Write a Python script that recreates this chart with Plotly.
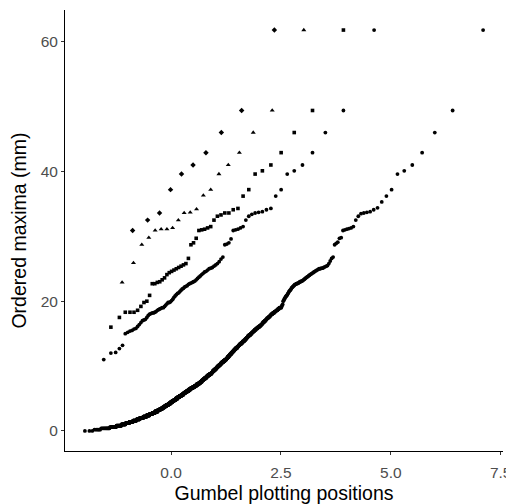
import numpy as np
import plotly.graph_objects as go

# ---- data ----
# Series 1 (1212 ordered values): lower part as value levels with repeat counts
series1_levels = [0.0, 0.2, 0.4, 0.6, 0.8, 1.0, 1.2, 1.4, 1.6, 1.8,
                  2.0, 2.2, 2.4, 2.6, 2.8, 3.0, 3.2, 3.4, 3.6, 3.8,
                  4.0, 4.2, 4.4, 4.6, 4.8, 5.0, 5.2, 5.4, 5.6, 5.8,
                  6.0, 6.2, 6.4, 6.6, 6.8, 7.0, 7.2, 7.4, 7.6, 7.8,
                  8.0, 8.2, 8.4, 8.6, 8.8, 9.0, 9.2, 9.4, 9.6, 9.8,
                  10.0, 10.2, 10.4, 10.6, 10.8, 11.0, 11.2, 11.4, 11.6, 11.8,
                  12.0, 12.2, 12.4, 12.6, 12.8, 13.0, 13.2, 13.4, 13.6, 13.8,
                  14.0, 14.2, 14.4, 14.6, 14.8, 15.0, 15.2, 15.4, 15.6, 15.8,
                  16.0, 16.2, 16.4, 16.6, 16.8, 17.0, 17.2, 17.4, 17.6, 17.8,
                  18.0, 18.2, 18.4, 18.6, 18.8, 19.0]
series1_counts = [3, 5, 13, 16, 17, 18, 19, 21, 23, 23,
                  26, 26, 26, 26, 25, 26, 21, 21, 21, 21,
                  21, 19, 19, 19, 19, 19, 18, 18, 19, 18,
                  18, 18, 18, 19, 18, 18, 18, 12, 13, 12,
                  13, 12, 12, 13, 13, 9, 9, 9, 9, 9,
                  9, 9, 9, 9, 9, 10, 6, 7, 6, 7,
                  6, 6, 7, 6, 7, 6, 6, 7, 6, 7,
                  5, 5, 5, 5, 6, 5, 5, 5, 5, 6,
                  5, 5, 4, 3, 4, 4, 3, 4, 4, 3,
                  4, 4, 4, 4, 3, 5]
series1_upper = [19.2, 19.4, 19.5, 20.0, 20.1, 20.3, 20.4, 20.6, 20.7, 20.8,
                 20.9, 21.0, 21.2, 21.3, 21.5, 21.6, 21.7, 21.8, 22.0, 22.1,
                 22.2, 22.3, 22.4, 22.5, 22.6, 22.6, 22.7, 22.7, 22.8, 22.8,
                 22.9, 23.0, 23.0, 23.1, 23.1, 23.2, 23.3, 23.4, 23.5, 23.6,
                 23.7, 23.8, 23.9, 24.0, 24.1, 24.2, 24.3, 24.4, 24.5, 24.6,
                 24.7, 24.8, 24.9, 25.0, 25.0, 25.1, 25.1, 25.2, 25.3, 25.4,
                 25.5, 25.8, 26.2, 26.6, 26.8, 28.7, 28.9, 29.1, 29.7, 29.8,
                 30.9, 31.0, 31.1, 31.2, 31.3, 31.5, 32.5, 33.1, 33.5, 33.6,
                 33.7, 33.8, 34.1, 34.4, 35.3, 36.2, 37.2, 39.6, 40.1, 41.0,
                 42.9, 46.0, 49.4, 61.8]

# Series 2 (101 ordered values, circles)
series2 = [11.0, 12.0, 12.1, 12.7, 13.2, 15.0, 15.2, 15.4, 15.5, 15.7,
           15.8, 16.1, 16.4, 16.7, 17.0, 17.1, 17.2, 17.5, 17.8, 18.0,
           18.1, 18.2, 18.2, 18.3, 18.4, 18.6, 18.7, 18.8, 18.9, 19.0,
           19.0, 19.2, 19.4, 19.6, 19.8, 19.8, 19.9, 20.1, 20.3, 20.6,
           20.8, 21.0, 21.2, 21.3, 21.5, 21.7, 21.9, 22.0, 22.2, 22.3,
           22.4, 22.6, 22.7, 22.8, 22.9, 23.0, 23.1, 23.3, 23.5, 23.7,
           23.9, 24.1, 24.3, 24.5, 24.6, 24.8, 25.0, 25.1, 25.2, 25.4,
           25.6, 25.8, 26.1, 26.5, 26.8, 28.7, 28.8, 29.0, 29.6, 30.9,
           31.0, 31.1, 31.3, 31.5, 32.5, 33.1, 33.4, 33.6, 33.7, 33.8,
           34.1, 34.3, 36.2, 37.2, 39.6, 40.1, 41.0, 42.9, 46.0, 49.4,
           61.8]

# Series 3 (50 ordered values, squares)
series3 = [16.0, 17.5, 18.3, 18.3, 18.3, 18.6, 19.2, 19.8, 20.0, 20.9,
           22.7, 22.7, 22.9, 23.0, 23.3, 23.6, 24.1, 24.4, 24.6, 24.8,
           25.0, 25.2, 25.4, 25.6, 25.8, 26.6, 28.7, 29.0, 29.7, 30.9,
           31.0, 31.1, 31.3, 31.5, 32.5, 33.1, 33.3, 33.6, 33.6, 34.1,
           34.3, 36.2, 37.2, 39.6, 40.1, 41.0, 42.9, 46.0, 49.4, 61.8]

# Series 4 (20 ordered values, triangles)
series4 = [22.9, 25.9, 28.7, 29.8, 30.9, 31.1, 31.1, 31.3, 32.5, 33.6,
           33.7, 34.2, 36.3, 37.2, 39.6, 41.0, 42.9, 46.0, 49.4, 61.8]

# Series 5 (10 ordered values, diamonds)
series5 = [30.9, 32.5, 33.6, 37.2, 39.6, 41.0, 42.9, 46.0, 49.4, 61.8]

x_ticks = [0.0, 2.5, 5.0, 7.5]
x_ticklabels = ["0.0", "2.5", "5.0", "7.5"]
y_ticks = [0, 20, 40, 60]


def gumbel_positions(values):
    n = len(values)
    i = np.arange(1, n + 1)
    return -np.log(-np.log(i / (n + 1)))


series1 = list(np.repeat(series1_levels, series1_counts)) + series1_upper

fig = go.Figure()
specs = [
    (series1, "circle", 3.8),
    (series2, "circle", 3.8),
    (series3, "square", 3.6),
    (series4, "triangle-up", 4.4),
    (series5, "diamond", 4.2),
]
for vals, sym, sz in specs:
    vals = np.sort(np.asarray(vals, dtype=float))
    fig.add_trace(go.Scatter(
        x=gumbel_positions(vals), y=vals, mode="markers",
        marker=dict(symbol=sym, size=sz, color="black", line=dict(width=0)),
        showlegend=False, hoverinfo="skip", cliponaxis=False))

FONT = "Liberation Sans, Arial, sans-serif"
axis_common = dict(
    showgrid=False, zeroline=False, showline=True, linecolor="black", linewidth=1,
    ticks="outside", ticklen=3, tickwidth=1, tickcolor="#333333", automargin=False,
    tickfont=dict(family=FONT, size=15.5, color="#4D4D4D"),
)
fig.update_xaxes(range=[-2.413, 7.553], tickvals=x_ticks, ticktext=x_ticklabels,
                 ticklabelstandoff=4,
                 title=dict(text="Gumbel plotting positions", standoff=9,
                            font=dict(family=FONT, size=19.5, color="black")),
                 **axis_common)
fig.update_yaxes(range=[-3.09, 64.89], tickvals=y_ticks,
                 ticklabelstandoff=0,
                 title=dict(text="Ordered maxima (mm)", standoff=8,
                            font=dict(family=FONT, size=19.5, color="black")),
                 **axis_common)
# page body has an 8px margin; figure is sized/offset so the plot area lands
# at the same place as the reference
fig.update_layout(width=506, height=496, margin=dict(l=57, r=11, t=2, b=53),
                  plot_bgcolor="white", paper_bgcolor="white")
fig.write_html("out.html")
